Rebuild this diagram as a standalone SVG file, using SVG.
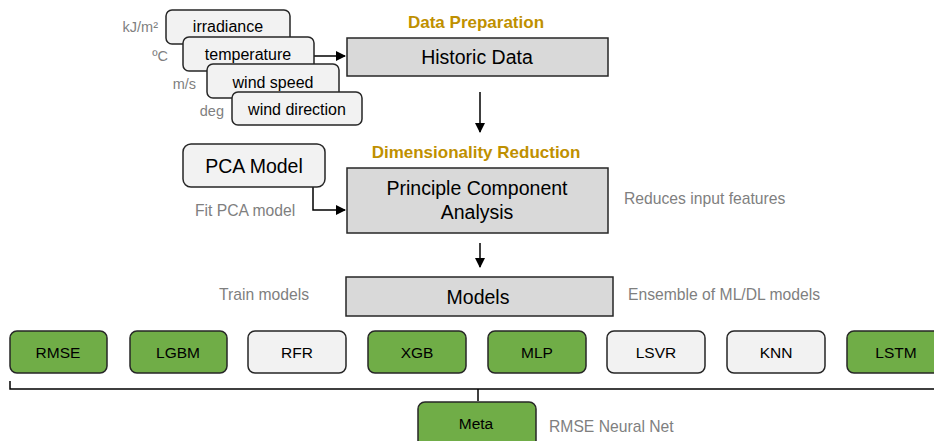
<svg xmlns="http://www.w3.org/2000/svg" width="934" height="441" viewBox="0 0 934 441">
<style>
text{font-family:"Liberation Sans",Arial,sans-serif;}
.inp{fill:#f2f2f2;stroke:#262626;stroke-width:1.5;}
.main{fill:#d9d9d9;stroke:#262626;stroke-width:1.5;}
.grn{fill:#70ad47;stroke:#262626;stroke-width:1.5;}
.lt{fill:#f2f2f2;stroke:#262626;stroke-width:1.5;}
.t{fill:#000;text-anchor:middle;}
.big{font-size:19.5px;}
.small{font-size:15.5px;}
.in{font-size:16px;}
.unit{fill:#7f7f7f;font-size:14.5px;text-anchor:end;}
.gray{fill:#7f7f7f;font-size:15.7px;}
.head{fill:#bf9000;font-size:17px;font-weight:bold;text-anchor:middle;}
.line{stroke:#000;stroke-width:1.5;fill:none;}
</style>
<defs>
<marker id="ah" markerWidth="10" markerHeight="10" refX="9" refY="5" orient="auto" markerUnits="userSpaceOnUse">
<path d="M0,0 L10,5 L0,10 z" fill="#000"/>
</marker>
</defs>

<g id="connectors">
<path class="line" d="M314,56 L345,56" marker-end="url(#ah)"/>
<path class="line" d="M480,92 L480,132" marker-end="url(#ah)"/>
<path class="line" d="M313,187 L313,210 L345,210" marker-end="url(#ah)"/>
<path class="line" d="M480,243 L480,267" marker-end="url(#ah)"/>
<path class="line" d="M10,381 L10,389 L934,389"/>
<path class="line" d="M478,389 L478,401"/>
</g>

<g id="units">
<text class="unit" x="158" y="32">kJ/m²</text>
<text class="unit" x="168" y="61">ºC</text>
<text class="unit" x="196" y="89">m/s</text>
<text class="unit" x="224" y="116">deg</text>
</g>

<g id="irradiance">
<rect class="inp" x="166" y="10" width="124" height="34" rx="6"/>
<text class="t in" x="228" y="32">irradiance</text>
</g>
<g id="temperature">
<rect class="inp" x="183" y="37" width="131" height="34" rx="6"/>
<text class="t in" x="248" y="60">temperature</text>
</g>
<g id="wind-speed">
<rect class="inp" x="207" y="64" width="132" height="34" rx="6"/>
<text class="t in" x="273" y="88">wind speed</text>
</g>
<g id="wind-direction">
<rect class="inp" x="232" y="92" width="130" height="33" rx="6"/>
<text class="t in" x="297" y="115">wind direction</text>
</g>

<g id="historic-data">
<text class="head" x="476" y="28">Data Preparation</text>
<rect class="main" x="347" y="38" width="261" height="38"/>
<text class="t big" x="477" y="64">Historic Data</text>
</g>

<g id="pca-model">
<rect class="inp" x="183" y="144" width="142" height="43" rx="8"/>
<text class="t big" x="254" y="173">PCA Model</text>
<text class="gray" x="195" y="216">Fit PCA model</text>
</g>

<g id="pca">
<text class="head" x="476" y="158">Dimensionality Reduction</text>
<rect class="main" x="347" y="168" width="261" height="65"/>
<text class="t big" x="477" y="195">Principle Component</text>
<text class="t big" x="477" y="219">Analysis</text>
<text class="gray" x="624" y="204">Reduces input features</text>
</g>

<g id="models">
<text class="gray" x="219" y="300">Train models</text>
<rect class="main" x="346" y="277" width="267" height="39"/>
<text class="t big" x="478" y="304">Models</text>
<text class="gray" x="628" y="300">Ensemble of ML/DL models</text>
</g>

<g id="rmse"><rect class="grn" x="10" y="331" width="97" height="42" rx="7"/><text class="t small" x="58" y="358">RMSE</text></g>
<g id="lgbm"><rect class="grn" x="130" y="331" width="97" height="42" rx="7"/><text class="t small" x="178" y="358">LGBM</text></g>
<g id="rfr"><rect class="lt" x="248" y="331" width="98" height="42" rx="7"/><text class="t small" x="297" y="358">RFR</text></g>
<g id="xgb"><rect class="grn" x="368" y="331" width="98" height="42" rx="7"/><text class="t small" x="417" y="358">XGB</text></g>
<g id="mlp"><rect class="grn" x="488" y="331" width="98" height="42" rx="7"/><text class="t small" x="537" y="358">MLP</text></g>
<g id="lsvr"><rect class="lt" x="607" y="331" width="98" height="42" rx="7"/><text class="t small" x="656" y="358">LSVR</text></g>
<g id="knn"><rect class="lt" x="727" y="331" width="98" height="42" rx="7"/><text class="t small" x="776" y="358">KNN</text></g>
<g id="lstm"><rect class="grn" x="847" y="331" width="98" height="42" rx="7"/><text class="t small" x="896" y="358">LSTM</text></g>

<g id="meta">
<rect class="grn" x="418" y="402" width="118" height="48" rx="7"/>
<text class="t small" x="476" y="429">Meta</text>
<text class="gray" x="549" y="432">RMSE Neural Net</text>
</g>
</svg>
